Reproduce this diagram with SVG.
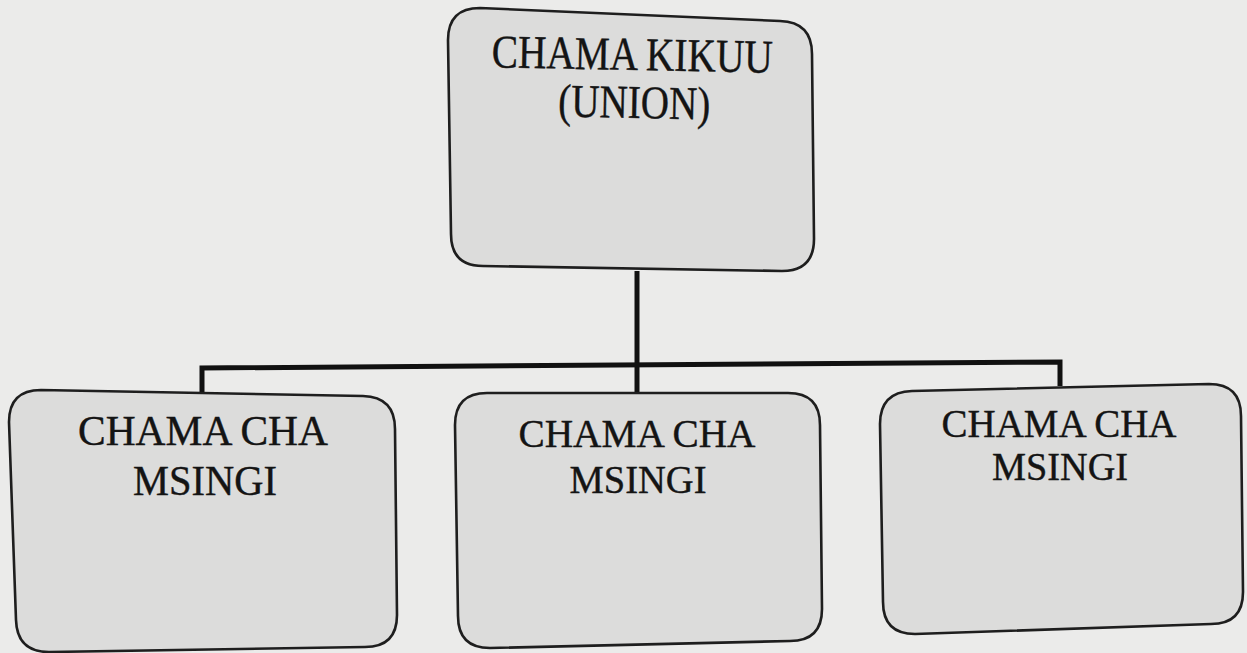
<svg xmlns="http://www.w3.org/2000/svg" width="1247" height="653" viewBox="0 0 1247 653">
<style>
.box{fill:#dcdcdb;stroke:#1e1e1e;stroke-width:2.6}
.conn{fill:none;stroke:#111;stroke-width:5;stroke-linejoin:miter}
.t{font-family:"Liberation Serif","Times New Roman",serif;fill:#141414;stroke:#141414;stroke-width:0.4;text-anchor:middle}
</style>
<rect x="0" y="0" width="1247" height="653" fill="#ebebea"/>
<g id="connectors">
<path class="conn" d="M637,271 L637,393"/>
<path class="conn" d="M202,392 L202,368 L1060,362 L1060,386"/>
</g>
<g id="union">
<path class="box" d="M480,8 L780,21 Q812,22 812,54 L814,239 Q814,271 782,271 L483,266 Q451,266 451,234 L448,40 Q448,8 480,8 Z"/>
<text class="t" x="632" y="70" font-size="47" textLength="281" lengthAdjust="spacingAndGlyphs" transform="rotate(1.1 632 70)">CHAMA KIKUU</text>
<text class="t" x="634" y="118" font-size="47" textLength="152" lengthAdjust="spacingAndGlyphs" transform="rotate(1.1 634 118)">(UNION)</text>
</g>
<g id="msingi-left">
<path class="box" d="M41,390 L363,396 Q395,397 395,429 L397,615 Q397,647 365,647 L49,652 Q17,652 16,620 L9,422 Q9,390 41,390 Z"/>
<text class="t" x="203" y="445" font-size="42" textLength="250" lengthAdjust="spacingAndGlyphs">CHAMA CHA</text>
<text class="t" x="205" y="495" font-size="42" textLength="144" lengthAdjust="spacingAndGlyphs">MSINGI</text>
</g>
<g id="msingi-middle">
<path class="box" d="M487,393 L788,393 Q820,393 820,425 L822,609 Q822,641 790,641 L490,648 Q458,648 458,616 L455,425 Q455,393 487,393 Z"/>
<text class="t" x="637" y="447" font-size="41" textLength="237" lengthAdjust="spacingAndGlyphs">CHAMA CHA</text>
<text class="t" x="638" y="493" font-size="41" textLength="137" lengthAdjust="spacingAndGlyphs">MSINGI</text>
</g>
<g id="msingi-right">
<path class="box" d="M912,391 L1209,384 Q1241,384 1241,416 L1243,592 Q1243,624 1211,624 L915,634 Q883,634 883,602 L880,424 Q880,392 912,391 Z"/>
<text class="t" x="1059" y="437" font-size="41" textLength="235" lengthAdjust="spacingAndGlyphs">CHAMA CHA</text>
<text class="t" x="1060" y="480" font-size="41" textLength="136" lengthAdjust="spacingAndGlyphs">MSINGI</text>
</g>
</svg>
